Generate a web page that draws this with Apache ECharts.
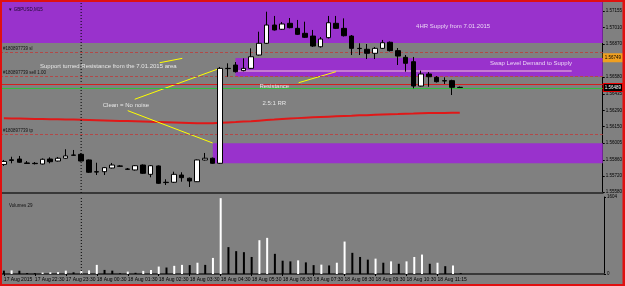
<!DOCTYPE html>
<html><head><meta charset="utf-8">
<script src="https://cdn.jsdelivr.net/npm/echarts@6/dist/echarts.min.js"></script>
<style>html,body{margin:0;padding:0;background:#808080}#c{width:625px;height:286px}</style>
</head><body><div id="c"></div>
<script>
// ---- data ----
const openP = [1.55820,1.55860,1.55867,1.55833,1.55830,1.55824,1.55867,1.55850,1.55874,1.55902,
1.55908,1.55859,1.55757,1.55757,1.55789,1.55807,1.55780,1.55772,1.55815,1.55734,
1.55807,1.55665,1.55665,1.55728,1.55700,1.55670,1.55859,1.55874,1.55830,1.56656,
1.56685,1.56636,1.56656,1.56772,1.56874,1.57033,1.56996,1.57048,1.57004,1.56961,
1.56937,1.56844,1.56923,1.57048,1.57004,1.56937,1.56830,1.56822,1.56787,1.56830,
1.56883,1.56810,1.56752,1.56714,1.56502,1.56607,1.56578,1.56549,1.56549,1.56491];
const closeP = [1.55846,1.55855,1.55839,1.55829,1.55827,1.55865,1.55844,1.55874,1.55894,1.55900,
1.55850,1.55752,1.55754,1.55792,1.55815,1.55804,1.55778,1.55809,1.55743,1.55809,
1.55656,1.55662,1.55734,1.55705,1.55676,1.55859,1.55874,1.55830,1.56656,1.56654,
1.56627,1.56656,1.56757,1.56874,1.57033,1.56990,1.57042,1.57010,1.56952,1.56926,
1.56850,1.56911,1.57053,1.57004,1.56940,1.56830,1.56828,1.56787,1.56830,1.56879,
1.56810,1.56763,1.56700,1.56502,1.56607,1.56583,1.56540,1.56546,1.56491,1.56489];
const lowP = [1.55807,1.55830,1.55833,1.55824,1.55820,1.55820,1.55830,1.55846,1.55869,1.55895,
1.55846,1.55746,1.55728,1.55728,1.55785,1.55798,1.55772,1.55767,1.55737,1.55708,
1.55650,1.55641,1.55659,1.55670,1.55624,1.55667,1.55854,1.55826,1.55826,1.56583,
1.56620,1.56630,1.56650,1.56768,1.56868,1.56985,1.56990,1.57004,1.56946,1.56920,
1.56842,1.56837,1.56916,1.56998,1.56933,1.56772,1.56772,1.56737,1.56737,1.56824,
1.56803,1.56685,1.56627,1.56482,1.56498,1.56496,1.56533,1.56520,1.56424,1.56485];
const highP = [1.55859,1.55887,1.55894,1.55850,1.55841,1.55872,1.55882,1.55885,1.55952,1.55946,
1.55917,1.55863,1.55835,1.55798,1.55833,1.55815,1.55789,1.55815,1.55820,1.55815,
1.55811,1.55691,1.55757,1.55752,1.55706,1.55863,1.55920,1.55880,1.56668,1.56700,
1.56711,1.56743,1.56830,1.56975,1.57149,1.57112,1.57059,1.57094,1.57077,1.57062,
1.56990,1.56929,1.57112,1.57112,1.57091,1.56946,1.56874,1.56868,1.56842,1.56903,
1.56890,1.56833,1.56772,1.56755,1.56636,1.56624,1.56589,1.56578,1.56557,1.56498];
const volumes = [70,75,68,20,18,30,35,40,70,35,
65,75,190,85,70,15,50,25,65,85,
155,135,170,190,185,235,190,335,1580,560,
476,455,355,704,753,420,277,263,284,242,
185,195,178,235,676,441,355,299,320,235,
263,213,263,355,405,213,235,163,178,20];
const maLine = [1.56221,1.56220,1.56219,1.56218,1.56216,1.56215,1.56214,1.56213,1.56211,1.56210,
1.56209,1.56207,1.56205,1.56203,1.56201,1.56199,1.56197,1.56195,1.56193,1.56191,
1.56189,1.56187,1.56185,1.56183,1.56181,1.56179,1.56178,1.56178,1.56182,1.56186,
1.56189,1.56193,1.56196,1.56201,1.56206,1.56210,1.56215,1.56219,1.56223,1.56227,
1.56230,1.56233,1.56236,1.56239,1.56242,1.56244,1.56247,1.56249,1.56252,1.56255,
1.56257,1.56259,1.56262,1.56263,1.56265,1.56267,1.56268,1.56268,1.56269,1.56270];
const categoryCount = 78;
const categories = Array.from({length: categoryCount}, (_, i) => String(i));
const timeLabels = ['17 Aug 2015','17 Aug 22:30','17 Aug 23:30','18 Aug 00:30','18 Aug 01:30','18 Aug 02:30','18 Aug 03:30','18 Aug 04:30','18 Aug 05:30','18 Aug 06:30','18 Aug 07:30','18 Aug 08:30','18 Aug 09:30','18 Aug 10:30','18 Aug 11:15'];
const timeLabelIdx = [0,4,8,12,16,20,24,28,32,36,40,44,48,52,56];
const priceTicks = [1.55580,1.55720,1.55860,1.56005,1.56150,1.56290,1.56435,1.56580,1.56725,1.56870,1.57010,1.57155];
const volumeTicks = [0,1604];
const priceMin = 1.555716, priceMax = 1.572333;
const separatorIdx = 10;
const orderLevels = [1.56792,1.56590,1.56085];
const orderLabels = ['#180897739 sl','#180897739 sell 1.00','#180897739 tp'];
const redLevel = 1.56514, greenLevel = 1.56482, orangeLevel = 1.56749;
const zoneStart = [-0.5, 29.97, 27.04];
const zoneTop = [1.5724, 1.56746, 1.56004];
const zoneBottom = [1.56877, 1.56584, 1.55830];
const pinkLineX = [29.97, 73.49], pinkLineY = 1.56633;
const trendX1 = [20.16,16.93,16.03,38.15], trendY1 = [1.56705,1.56387,1.56288,1.56531];
const trendX2 = [23.09,27.69,27.01,42.98], trendY2 = [1.56743,1.56650,1.56007,1.56627];
const annoText = ['Support turned Resistance from the 7.01.2015 area','Clean = No noise','2.5:1 RR','Resistance','4HR Supply from 7.01.2015','Swap Level Demand to Supply'];
const annoX = [4.67,12.80,33.46,33.07,53.35,62.90];
const annoY = [1.56670,1.56335,1.56352,1.56496,1.57018,1.56700];

// ---- chart ----
const FONT = 'Liberation Sans';
const chart = echarts.init(document.getElementById('c'), null, {renderer:'canvas'});
const candles = openP.map((o,i)=>[o, closeP[i], lowP[i], highP[i]]);
const showLabel = (idx) => timeLabelIdx.indexOf(idx) >= 0;

const levelLines = orderLevels.map((v,i)=>({
  yAxis: v,
  lineStyle:{type:[3,2], color:'#b24848', width:1},
  label:{show:true, position:'insideStartTop', distance:[3,1], formatter: orderLabels[i], color:'#111', fontSize:4.5, fontFamily:FONT}
}));
const sideLabel = (bg, fg, border) => ({show:true, position:'end', distance:1, formatter:(p)=>Number(p.value).toFixed(5),
  backgroundColor:bg, color:fg, borderColor:border || bg, borderWidth:1, fontSize:4.5, fontFamily:FONT, padding:[1,1,1,1], opacity:1});

const series = [
  {
    type:'custom', xAxisIndex:1, yAxisIndex:0, z:1, silent:true,
    data: zoneStart.map((s,i)=>[s, zoneTop[i], zoneBottom[i]]),
    renderItem: function(params, api){
      const cs = params.coordSys;
      const s = api.value(0);
      const x0 = s < 0 ? cs.x : api.coord([s, api.value(1)])[0];
      const yT = Math.max(cs.y, api.coord([0, api.value(1)])[1]);
      const yB = Math.min(cs.y + cs.height, api.coord([0, api.value(2)])[1]);
      return {type:'rect', shape:{x:x0, y:yT, width: cs.x + cs.width - x0, height: yB - yT}, style:{fill:'#9932cc'}};
    }
  },
  {
    type:'line', xAxisIndex:1, yAxisIndex:0, z:2, silent:true, symbol:'none',
    data: pinkLineX.map(x=>[x, pinkLineY]),
    lineStyle:{color:'#f2c4d6', width:1}
  },
  {
    type:'line', xAxisIndex:0, yAxisIndex:0, z:3, silent:true, symbol:'none',
    data: maLine, lineStyle:{color:'#e01818', width:2},
    markLine:{
      silent:true, symbol:['none','none'], animation:false, precision:5,
      data: levelLines.concat([
        {yAxis: redLevel, lineStyle:{type:'solid', color:'#d42020', width:1}, label:{show:false}},
        {yAxis: greenLevel, lineStyle:{type:'solid', color:'#2fbf3a', width:1}, label:{show:false}},
        {yAxis: orangeLevel, lineStyle:{type:'solid', color:'rgba(0,0,0,0)', width:1}, label: sideLabel('#f0a020', '#000', null)},
        {yAxis: closeP[closeP.length-1], lineStyle:{type:'solid', color:'rgba(0,0,0,0)', width:1}, label: sideLabel('#000', '#fff', '#e00')}
      ])
    }
  },
  {
    type:'candlestick', xAxisIndex:0, yAxisIndex:0, z:5, data: candles, barWidth:5,
    itemStyle:{color:'#ffffff', color0:'#000000', borderColor:'#000000', borderColor0:'#000000', borderWidth:1}
  },
  {
    type:'bar', xAxisIndex:2, yAxisIndex:1, barWidth:2, z:3,
    data: volumes.map((v,i)=>({value:v, itemStyle:{color: (i>0 && v>volumes[i-1]) ? '#ffffff' : '#000000'}}))
  },
  {
    type:'line', xAxisIndex:1, yAxisIndex:0, z:4, silent:true, symbol:'none',
    data:[[separatorIdx, priceMin],[separatorIdx, priceMax]], lineStyle:{type:[1,2], color:'#000', width:1}
  },
  {
    type:'line', xAxisIndex:3, yAxisIndex:1, z:4, silent:true, symbol:'none',
    data:[[separatorIdx, 0],[separatorIdx, 1604]], lineStyle:{type:[1,2], color:'#000', width:1}
  },
  {
    type:'scatter', xAxisIndex:1, yAxisIndex:0, z:6, silent:true, symbolSize:0,
    itemStyle:{color:'transparent'},
    data: annoText.map((t,i)=>({name:t, value:[annoX[i], annoY[i]]})),
    label:{show:true, position:'right', distance:0, formatter:(p)=>p.name, color:'#ffffff', fontSize:6, fontFamily:FONT}
  }
];
trendX1.forEach((x,i)=>{
  series.push({type:'line', xAxisIndex:1, yAxisIndex:0, z:4, silent:true, symbol:'none',
    data:[[x, trendY1[i]],[trendX2[i], trendY2[i]]], lineStyle:{color:'#ffff00', width:1}});
});

chart.setOption({
  animation:false,
  backgroundColor:'#808080',
  title:[
    {text:'▼ GBPUSD,M15', left:3, top:2, textStyle:{fontSize:4.5, color:'#1e0a30', fontWeight:'normal', fontFamily:FONT}},
    {text:'Volumes 29', left:4, top:198, textStyle:{fontSize:4.5, color:'#111', fontWeight:'normal', fontFamily:FONT}}
  ],
  grid:[
    {left:0, top:2, width:604, height:191},
    {left:0, top:197, width:604, height:77}
  ],
  xAxis:[
    {gridIndex:0, type:'category', data:categories, boundaryGap:true,
      axisLine:{show:true, lineStyle:{color:'#383838', width:2}}, axisTick:{show:false}, axisLabel:{show:false}, splitLine:{show:false}},
    {gridIndex:0, type:'value', min:-0.5, max:categoryCount-0.5, show:false},
    {gridIndex:1, type:'category', data:categories, boundaryGap:true,
      axisLine:{show:true, lineStyle:{color:'#383838', width:2}},
      axisTick:{show:true, alignWithLabel:true, interval:(i)=>showLabel(i), length:2, lineStyle:{color:'#000'}},
      axisLabel:{show:true, interval:(i)=>showLabel(i), align:'left', margin:3, fontSize:5, color:'#000', fontFamily:FONT,
        formatter:(v,i)=>{ const k = timeLabelIdx.indexOf(i); return k>=0 ? timeLabels[k] : ''; }},
      splitLine:{show:false}},
    {gridIndex:1, type:'value', min:-0.5, max:categoryCount-0.5, show:false}
  ],
  yAxis:[
    {gridIndex:0, type:'value', position:'right', min:priceMin, max:priceMax,
      axisLine:{show:true, onZero:false, lineStyle:{color:'#000', width:1}},
      axisTick:{show:true, length:2, customValues:priceTicks, lineStyle:{color:'#000'}},
      axisLabel:{show:true, customValues:priceTicks, formatter:(v)=>Number(v).toFixed(5), fontSize:4.5, color:'#000', margin:3, fontFamily:FONT},
      splitLine:{show:false}},
    {gridIndex:1, type:'value', position:'right', min:0, max:1604,
      axisLine:{show:true, onZero:false, lineStyle:{color:'#000', width:1}},
      axisTick:{show:true, length:2, customValues:volumeTicks, lineStyle:{color:'#000'}},
      axisLabel:{show:true, customValues:volumeTicks, formatter:(v)=>String(v), fontSize:4.5, color:'#000', margin:3, fontFamily:FONT},
      splitLine:{show:false}}
  ],
  graphic:[
    {type:'rect', silent:true, z:100, shape:{x:0,y:0,width:625,height:2}, style:{fill:'#e01010'}},
    {type:'rect', silent:true, z:100, shape:{x:0,y:284,width:625,height:2}, style:{fill:'#e01010'}},
    {type:'rect', silent:true, z:100, shape:{x:0,y:0,width:2,height:286}, style:{fill:'#e01010'}},
    {type:'rect', silent:true, z:100, shape:{x:622.5,y:0,width:2.5,height:286}, style:{fill:'#e01010'}}
  ],
  series: series
});
</script></body></html>
